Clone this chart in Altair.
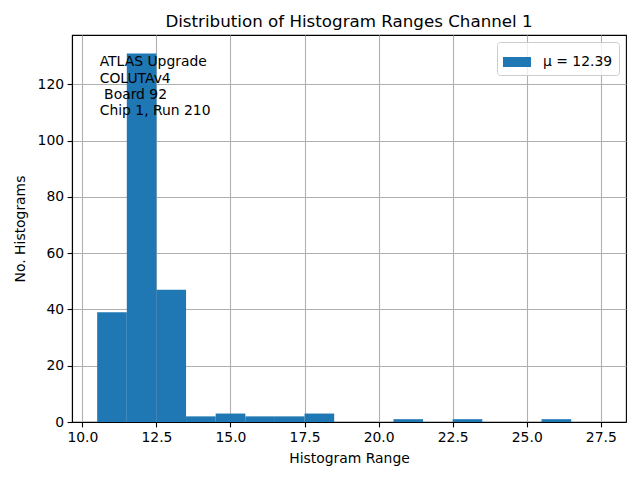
import altair as alt
import pandas as pd

bin_start = [10.5, 11.5, 12.5, 13.5, 14.5, 15.5, 16.5, 17.5, 18.5, 19.5, 20.5, 21.5, 22.5, 23.5, 24.5, 25.5, 26.5]
bin_end = [11.5, 12.5, 13.5, 14.5, 15.5, 16.5, 17.5, 18.5, 19.5, 20.5, 21.5, 22.5, 23.5, 24.5, 25.5, 26.5, 27.5]
counts = [39, 131, 47, 2, 3, 2, 2, 3, 0, 0, 1, 0, 1, 0, 0, 1, 0]
legend_label = "μ = 12.39"
x_ticks = [10.0, 12.5, 15.0, 17.5, 20.0, 22.5, 25.0, 27.5]
y_ticks = [0, 20, 40, 60, 80, 100, 120]
annotation = "ATLAS Upgrade\nCOLUTAv4\n\u200b\u00a0Board 92\nChip 1, Run 210"

df = pd.DataFrame({"start": bin_start, "end": bin_end, "count": counts,
                   "label": [legend_label] * len(counts)})

FONT = "DejaVu Sans"
W, H = 554, 387

bars = alt.Chart(df).mark_bar(color="#1f77b4", binSpacing=0).encode(
    x=alt.X("start:Q",
            scale=alt.Scale(domain=[9.65, 28.35], nice=False, zero=False),
            axis=alt.Axis(values=x_ticks, format=".1f", title="Histogram Range",
                          titlePadding=7)),
    x2="end:Q",
    y=alt.Y("count:Q",
            scale=alt.Scale(domain=[0, 137.55], nice=False),
            axis=alt.Axis(values=y_ticks, title="No. Histograms", titlePadding=10)),
    y2=alt.datum(0),
    fill=alt.Fill("label:N", scale=alt.Scale(range=["#1f77b4"]),
                  legend=alt.Legend(title=None, orient="top-right", offset=7,
                                    symbolType="M-1,-0.357H1V0.357H-1Z",
                                    symbolSize=784, symbolStrokeWidth=0,
                                    labelFontSize=13.9, labelFont=FONT,
                                    labelColor="black", labelOffset=12,
                                    padding=6, strokeColor="#cccccc",
                                    fillColor="rgba(255,255,255,0.8)",
                                    cornerRadius=3, zindex=2)),
)

text = alt.Chart(pd.DataFrame({"t": [annotation]})).mark_text(
    align="left", baseline="top", font=FONT, fontSize=13.9, lineBreak="\n",
    lineHeight=16.2, color="black"
).encode(x=alt.value(0.05 * W), y=alt.value(0.05 * H + 1), text="t:N")

chart = (bars + text).properties(
    width=W, height=H,
    title=alt.TitleParams("Distribution of Histogram Ranges Channel 1",
                          font=FONT, fontSize=16.7, fontWeight="normal",
                          color="black", offset=4, anchor="middle"),
    autosize=alt.AutoSizeParams(type="none"),
    padding={"left": 64, "top": 27, "right": 5, "bottom": 50},
).configure_view(stroke="black", strokeWidth=1.1).configure_axis(
    labelFont=FONT, titleFont=FONT, labelFontSize=13.9, titleFontSize=13.9,
    titleFontWeight="normal", labelColor="black", titleColor="black",
    domainColor="black", domainWidth=1.1, tickColor="black", tickWidth=1.1,
    tickSize=4.9, labelPadding=3.5, gridColor="#b0b0b0", gridWidth=1.1,
    zindex=1, labelFlush=False, labelOverlap=False
)

chart.save("out.html", embed_options={"renderer": "svg", "actions": False})
